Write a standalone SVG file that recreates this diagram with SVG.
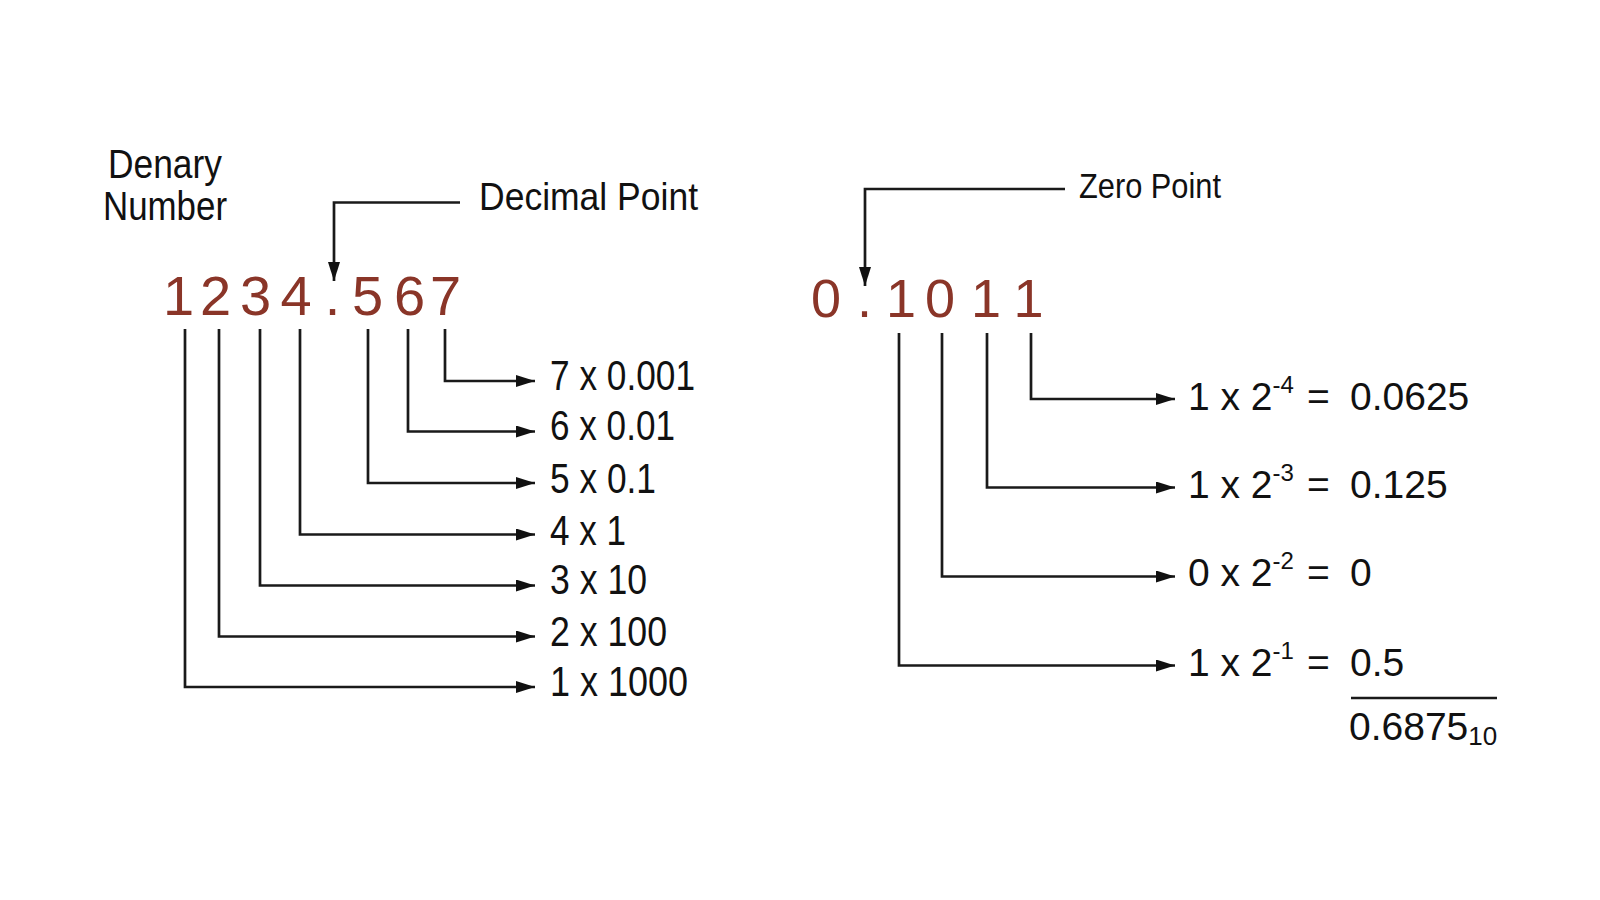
<svg xmlns="http://www.w3.org/2000/svg" width="1600" height="900" viewBox="0 0 1600 900">
  <style>
    .lbl { font-family: "Liberation Sans Narrow", "Liberation Sans", Arial, sans-serif; fill: #111; }
    .num { font-family: "Liberation Sans", Arial, sans-serif; fill: #111; }
    .big { font-family: "Liberation Sans", Arial, sans-serif; fill: #8a3528; text-anchor: middle; }
    .ln { fill: none; stroke: #1a1a1a; stroke-width: 2.7; stroke-linejoin: miter; }
  </style>
  <defs>
    <marker id="ah" markerUnits="userSpaceOnUse" markerWidth="20" markerHeight="12" refX="19" refY="6" orient="auto">
      <path d="M0,0 L19,6 L0,12 z" fill="#111"/>
    </marker>
  </defs>
  <rect width="1600" height="900" fill="#ffffff"/>

  <g id="connectors">
    <!-- decimal point pointer -->
    <polyline class="ln" points="460,202.5 334,202.5 334,281" marker-end="url(#ah)"/>
    <!-- zero point pointer -->
    <polyline class="ln" points="1065,189 865,189 865,286" marker-end="url(#ah)"/>
    <!-- left digits -->
    <polyline class="ln" points="185,329 185,687 535,687" marker-end="url(#ah)"/>
    <polyline class="ln" points="219,329 219,636.5 535,636.5" marker-end="url(#ah)"/>
    <polyline class="ln" points="260,329 260,585.5 535,585.5" marker-end="url(#ah)"/>
    <polyline class="ln" points="300,329 300,534.5 535,534.5" marker-end="url(#ah)"/>
    <polyline class="ln" points="368,329 368,483 535,483" marker-end="url(#ah)"/>
    <polyline class="ln" points="408,329 408,431.5 535,431.5" marker-end="url(#ah)"/>
    <polyline class="ln" points="445,329 445,381 535,381" marker-end="url(#ah)"/>
    <!-- right digits -->
    <polyline class="ln" points="899,333 899,665.5 1175,665.5" marker-end="url(#ah)"/>
    <polyline class="ln" points="942,333 942,576.5 1175,576.5" marker-end="url(#ah)"/>
    <polyline class="ln" points="987,333 987,487.5 1175,487.5" marker-end="url(#ah)"/>
    <polyline class="ln" points="1031,333 1031,399 1175,399" marker-end="url(#ah)"/>
    <!-- sum line -->
    <line class="ln" x1="1351" y1="698" x2="1497" y2="698"/>
  </g>

  <g id="denary-number">
    <text class="lbl" x="165" y="178" font-size="40" text-anchor="middle" textLength="114" lengthAdjust="spacingAndGlyphs">Denary</text>
    <text class="lbl" x="165" y="220" font-size="40" text-anchor="middle" textLength="124" lengthAdjust="spacingAndGlyphs">Number</text>
  </g>
  <g id="decimal-point-label">
    <text class="lbl" x="479" y="210" font-size="39" textLength="219" lengthAdjust="spacingAndGlyphs">Decimal Point</text>
  </g>
  <g id="denary-value">
    <text class="big" x="178.5 215.5 255.5 296 332.5 367.5 409.5 445.5" y="315" font-size="56">1234.567</text>
  </g>
  <g id="denary-terms">
    <text class="lbl" x="550" y="390" font-size="42" textLength="145" lengthAdjust="spacingAndGlyphs">7 x 0.001</text>
    <text class="lbl" x="550" y="440" font-size="42" textLength="125" lengthAdjust="spacingAndGlyphs">6 x 0.01</text>
    <text class="lbl" x="550" y="493" font-size="42" textLength="106" lengthAdjust="spacingAndGlyphs">5 x 0.1</text>
    <text class="lbl" x="550" y="545" font-size="42" textLength="76" lengthAdjust="spacingAndGlyphs">4 x 1</text>
    <text class="lbl" x="550" y="594" font-size="42" textLength="97" lengthAdjust="spacingAndGlyphs">3 x 10</text>
    <text class="lbl" x="550" y="646" font-size="42" textLength="117" lengthAdjust="spacingAndGlyphs">2 x 100</text>
    <text class="lbl" x="550" y="696" font-size="42" textLength="138" lengthAdjust="spacingAndGlyphs">1 x 1000</text>
  </g>

  <g id="zero-point-label">
    <text class="lbl" x="1079" y="198" font-size="35" textLength="142" lengthAdjust="spacingAndGlyphs">Zero Point</text>
  </g>
  <g id="binary-value">
    <text class="big" x="826 864.5 901 940 986 1028.5" y="317" font-size="54">0.1011</text>
  </g>
  <g id="binary-terms">
    <text class="num" y="410" font-size="39"><tspan x="1188">1 x 2</tspan><tspan font-size="24" dy="-17">-4</tspan><tspan x="1307" dy="17">=</tspan><tspan x="1350">0.0625</tspan></text>
    <text class="num" y="498" font-size="39"><tspan x="1188">1 x 2</tspan><tspan font-size="24" dy="-17">-3</tspan><tspan x="1307" dy="17">=</tspan><tspan x="1350">0.125</tspan></text>
    <text class="num" y="586" font-size="39"><tspan x="1188">0 x 2</tspan><tspan font-size="24" dy="-17">-2</tspan><tspan x="1307" dy="17">=</tspan><tspan x="1350">0</tspan></text>
    <text class="num" y="676" font-size="39"><tspan x="1188">1 x 2</tspan><tspan font-size="24" dy="-17">-1</tspan><tspan x="1307" dy="17">=</tspan><tspan x="1350">0.5</tspan></text>
  </g>
  <g id="binary-sum">
    <text class="num" x="1349" y="740" font-size="39">0.6875<tspan font-size="26" dy="5">10</tspan></text>
  </g>
</svg>
